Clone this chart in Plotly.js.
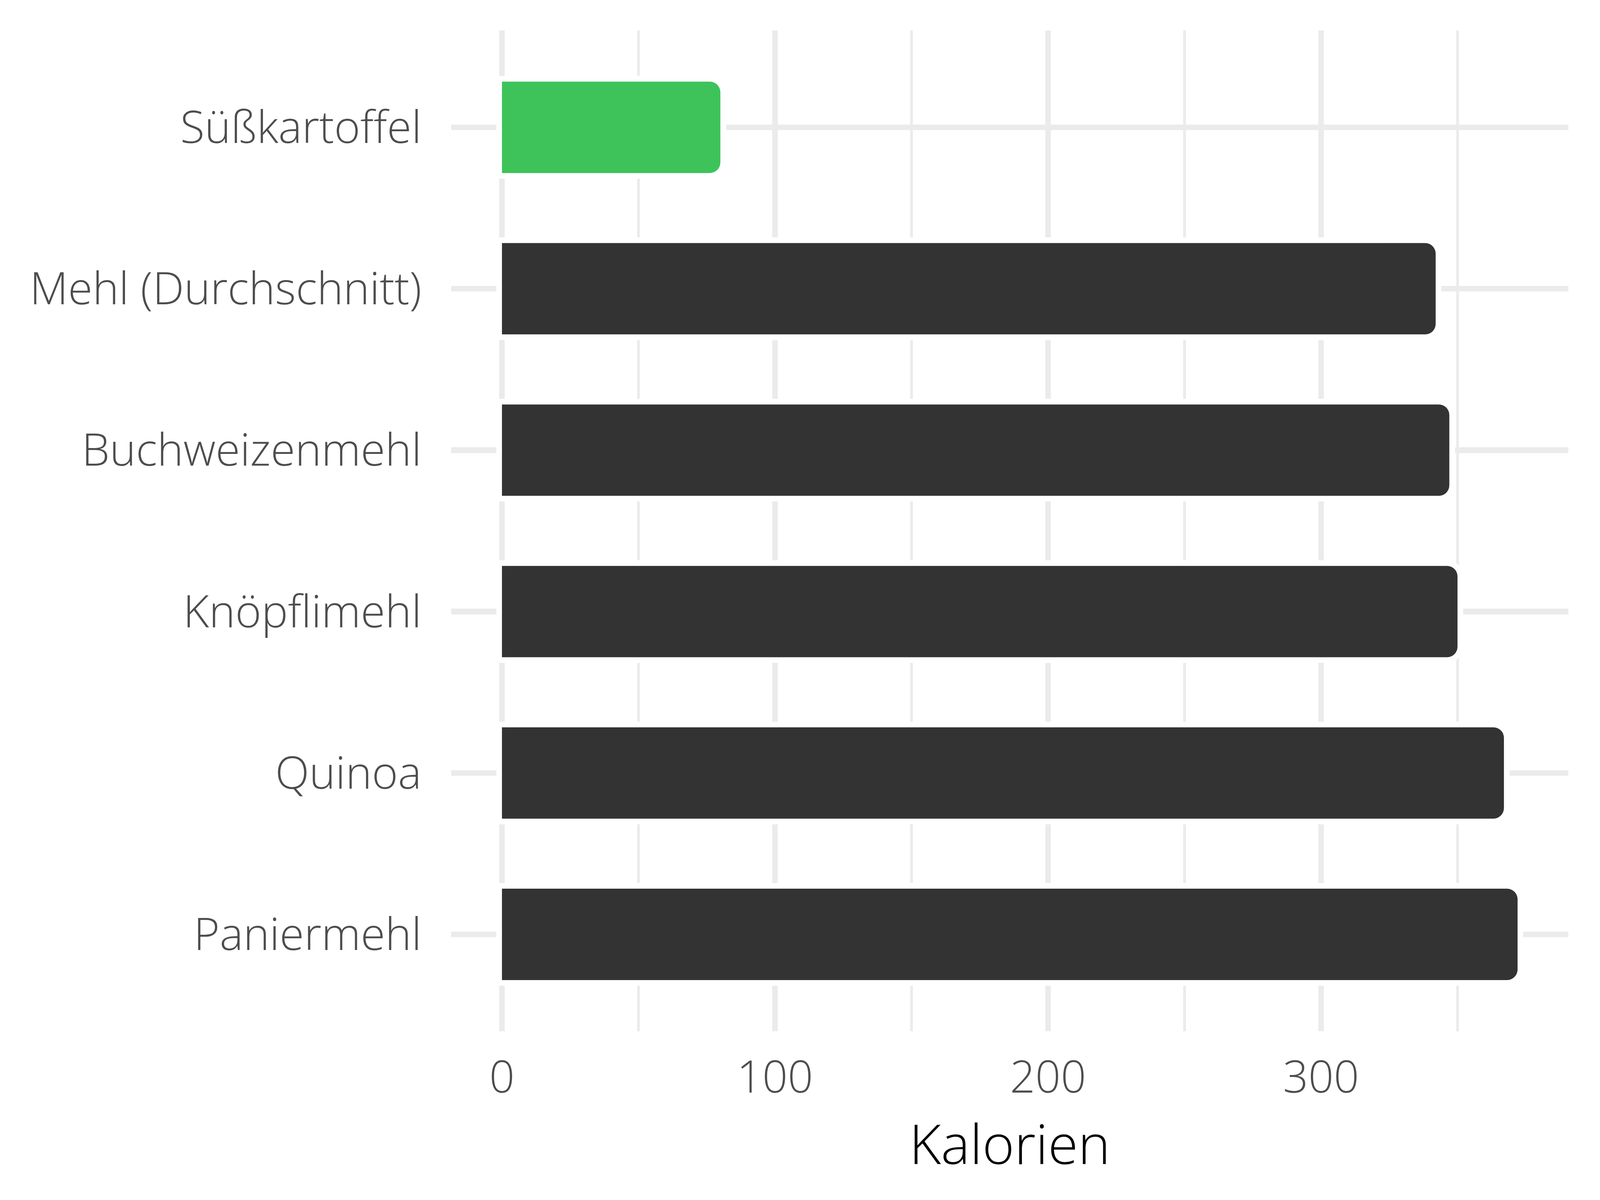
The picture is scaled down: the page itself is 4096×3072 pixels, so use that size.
<!DOCTYPE html>
<html>
<head>
<meta charset="utf-8">
<script src="https://cdn.plot.ly/plotly-3.0.1.min.js"></script>
<style>html,body{margin:0;padding:0;background:#fff;}#chart{width:4096px;height:3072px;}</style>
</head>
<body>
<div id="chart"></div>
<script>
const categories = ["Süßkartoffel", "Mehl (Durchschnitt)", "Buchweizenmehl", "Knöpflimehl", "Quinoa", "Paniermehl"];
const kalorien = [80, 342, 347, 350, 367, 372];
const barColors = ["#3EC35A", "#333333", "#333333", "#333333", "#333333", "#333333"];
const xTickValues = [0, 100, 200, 300];
const xTitle = "Kalorien";

const font = "'Open Sans', 'Noto Sans', sans-serif";
const barW = 0.566;

const outline = {
  type: "bar", orientation: "h",
  x: kalorien, y: categories, width: barW,
  marker: { color: "#ffffff", line: { color: "#ffffff", width: 29 }, cornerradius: 27 },
  hoverinfo: "skip", showlegend: false
};
const bars = {
  type: "bar", orientation: "h",
  x: kalorien, y: categories, width: barW,
  marker: { color: barColors, line: { width: 0 }, cornerradius: 27 },
  showlegend: false
};

const layout = {
  width: 4096, height: 3072,
  paper_bgcolor: "#ffffff", plot_bgcolor: "#ffffff",
  margin: { l: 1155, r: 81, t: 78, b: 432, pad: 0 },
  barmode: "overlay",
  showlegend: false,
  xaxis: {
    range: [-18.6, 390.6],
    tickvals: xTickValues,
    ticktext: xTickValues.map(String),
    showgrid: true, gridcolor: "#EBEBEB", gridwidth: 14.5,
    minor: { tickvals: [50, 150, 250, 350], showgrid: true, gridcolor: "#EBEBEB", gridwidth: 7.3 },
    zeroline: false, showline: false,
    ticks: "outside", ticklen: 19, tickcolor: "rgba(0,0,0,0)",
    tickfont: { family: font, size: 114, color: "#4D4D4D", weight: 350 },
    title: { text: xTitle, font: { family: font, size: 140, color: "#000000", weight: 350 }, standoff: 0 }
  },
  yaxis: {
    type: "category",
    categoryorder: "array", categoryarray: categories,
    range: [5.6, -0.6],
    showgrid: true, gridcolor: "#EBEBEB", gridwidth: 14.5,
    zeroline: false, showline: false,
    ticks: "outside", ticklen: 52, tickcolor: "rgba(0,0,0,0)",
    tickfont: { family: font, size: 114, color: "#4D4D4D", weight: 350 }
  }
};

Plotly.newPlot("chart", [outline, bars], layout, { staticPlot: true, displayModeBar: false });
</script>
</body>
</html>
